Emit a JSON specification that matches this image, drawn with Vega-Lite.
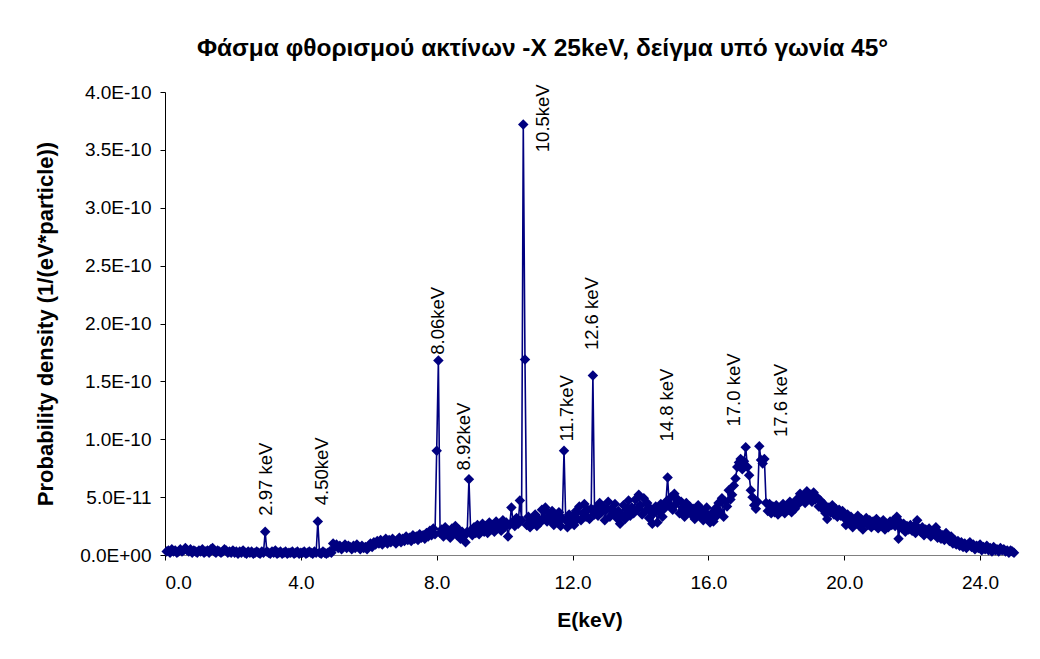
{
  "$schema": "https://vega.github.io/schema/vega-lite/v6.json",
  "autosize": {"type": "none"},
  "width": 849,
  "height": 463,
  "padding": {"left": 165, "top": 92, "right": 26, "bottom": 104},
  "background": "white",
  "config": {
    "font": "Liberation Sans",
    "view": {"stroke": null},
    "axis": {"grid": false, "labelFont": "Liberation Sans", "titleFont": "Liberation Sans", "labelColor": "#000000", "titleColor": "#000000", "labelFontSize": 19, "titleFontSize": 21, "titleFontWeight": "bold", "tickSize": 5, "domainWidth": 1, "tickWidth": 1}
  },
  "title": {
    "text": "Φάσμα φθορισμού ακτίνων -Χ 25keV, δείγμα υπό γωνία 45°",
    "font": "Liberation Sans",
    "fontSize": 24.5,
    "fontWeight": "bold",
    "color": "#000000",
    "anchor": "middle",
    "offset": 22,
    "dx": -47
  },
  "datasets": {
    "spectrum": [
      {"E":0.05,"P":0.3e-11},{"E":0.1,"P":0.4e-11},{"E":0.15,"P":0.2e-11},{"E":0.2,"P":0.5e-11},{"E":0.25,"P":0.3e-11},{"E":0.3,"P":0.4e-11},{"E":0.35,"P":0.2e-11},{"E":0.4,"P":0.3e-11},{"E":0.45,"P":0.5e-11},{"E":0.5,"P":0.3e-11},
      {"E":0.55,"P":0.4e-11},{"E":0.6,"P":0.6e-11},{"E":0.65,"P":0.4e-11},{"E":0.7,"P":0.3e-11},{"E":0.75,"P":0.5e-11},{"E":0.8,"P":0.2e-11},{"E":0.85,"P":0.4e-11},{"E":0.9,"P":0.3e-11},{"E":0.95,"P":0.2e-11},{"E":1.0,"P":0.4e-11},
      {"E":1.05,"P":0.3e-11},{"E":1.1,"P":0.5e-11},{"E":1.15,"P":0.2e-11},{"E":1.2,"P":0.3e-11},{"E":1.25,"P":0.4e-11},{"E":1.3,"P":0.2e-11},{"E":1.35,"P":0.5e-11},{"E":1.4,"P":0.6e-11},{"E":1.45,"P":0.3e-11},{"E":1.5,"P":0.2e-11},
      {"E":1.55,"P":0.4e-11},{"E":1.6,"P":0.3e-11},{"E":1.65,"P":0.2e-11},{"E":1.7,"P":0.3e-11},{"E":1.75,"P":0.5e-11},{"E":1.8,"P":0.4e-11},{"E":1.85,"P":0.2e-11},{"E":1.9,"P":0.3e-11},{"E":1.95,"P":0.2e-11},{"E":2.0,"P":0.4e-11},
      {"E":2.05,"P":0.2e-11},{"E":2.1,"P":0.3e-11},{"E":2.15,"P":0.1e-11},{"E":2.2,"P":0.3e-11},{"E":2.25,"P":0.2e-11},{"E":2.3,"P":0.4e-11},{"E":2.35,"P":0.2e-11},{"E":2.4,"P":0.1e-11},{"E":2.45,"P":0.3e-11},{"E":2.5,"P":0.2e-11},
      {"E":2.55,"P":0.3e-11},{"E":2.6,"P":0.1e-11},{"E":2.65,"P":0.2e-11},{"E":2.7,"P":0.3e-11},{"E":2.75,"P":0.2e-11},{"E":2.8,"P":0.1e-11},{"E":2.85,"P":0.3e-11},{"E":2.9,"P":0.2e-11},{"E":2.95,"P":2.0e-11},{"E":3.0,"P":0.3e-11},
      {"E":3.05,"P":0.2e-11},{"E":3.1,"P":0.1e-11},{"E":3.15,"P":0.3e-11},{"E":3.2,"P":0.2e-11},{"E":3.25,"P":0.4e-11},{"E":3.3,"P":0.1e-11},{"E":3.35,"P":0.2e-11},{"E":3.4,"P":0.3e-11},{"E":3.45,"P":0.1e-11},{"E":3.5,"P":0.2e-11},
      {"E":3.55,"P":0.3e-11},{"E":3.6,"P":0.1e-11},{"E":3.65,"P":0.2e-11},{"E":3.7,"P":0.2e-11},{"E":3.75,"P":0.3e-11},{"E":3.8,"P":0.1e-11},{"E":3.85,"P":0.2e-11},{"E":3.9,"P":0.3e-11},{"E":3.95,"P":0.1e-11},{"E":4.0,"P":0.2e-11},
      {"E":4.05,"P":0.2e-11},{"E":4.1,"P":0.3e-11},{"E":4.15,"P":0.1e-11},{"E":4.2,"P":0.2e-11},{"E":4.25,"P":0.3e-11},{"E":4.3,"P":0.2e-11},{"E":4.35,"P":0.1e-11},{"E":4.4,"P":0.3e-11},{"E":4.45,"P":0.2e-11},{"E":4.5,"P":2.9e-11},
      {"E":4.55,"P":0.2e-11},{"E":4.6,"P":0.1e-11},{"E":4.65,"P":0.3e-11},{"E":4.7,"P":0.2e-11},{"E":4.75,"P":0.1e-11},{"E":4.8,"P":0.2e-11},{"E":4.85,"P":0.3e-11},{"E":4.9,"P":0.2e-11},{"E":4.95,"P":1.0e-11},{"E":5.0,"P":0.7e-11},
      {"E":5.05,"P":0.9e-11},{"E":5.1,"P":0.6e-11},{"E":5.15,"P":0.8e-11},{"E":5.2,"P":0.5e-11},{"E":5.25,"P":0.7e-11},{"E":5.3,"P":0.9e-11},{"E":5.35,"P":0.6e-11},{"E":5.4,"P":0.8e-11},{"E":5.45,"P":0.7e-11},{"E":5.5,"P":0.5e-11},
      {"E":5.55,"P":0.8e-11},{"E":5.6,"P":0.6e-11},{"E":5.65,"P":0.9e-11},{"E":5.7,"P":0.7e-11},{"E":5.75,"P":0.5e-11},{"E":5.8,"P":0.8e-11},{"E":5.85,"P":0.6e-11},{"E":5.9,"P":0.7e-11},{"E":5.95,"P":0.5e-11},{"E":6.0,"P":0.8e-11},
      {"E":6.05,"P":1.0e-11},{"E":6.1,"P":0.7e-11},{"E":6.15,"P":1.1e-11},{"E":6.2,"P":0.9e-11},{"E":6.25,"P":1.2e-11},{"E":6.3,"P":1.0e-11},{"E":6.35,"P":1.3e-11},{"E":6.4,"P":0.9e-11},{"E":6.45,"P":1.2e-11},{"E":6.5,"P":1.4e-11},
      {"E":6.55,"P":1.0e-11},{"E":6.6,"P":1.3e-11},{"E":6.65,"P":1.1e-11},{"E":6.7,"P":1.4e-11},{"E":6.75,"P":1.2e-11},{"E":6.8,"P":1.0e-11},{"E":6.85,"P":1.3e-11},{"E":6.9,"P":1.5e-11},{"E":6.95,"P":1.1e-11},{"E":7.0,"P":1.4e-11},
      {"E":7.05,"P":1.2e-11},{"E":7.1,"P":1.6e-11},{"E":7.15,"P":1.3e-11},{"E":7.2,"P":1.5e-11},{"E":7.25,"P":1.2e-11},{"E":7.3,"P":1.7e-11},{"E":7.35,"P":1.4e-11},{"E":7.4,"P":1.6e-11},{"E":7.45,"P":1.3e-11},{"E":7.5,"P":1.8e-11},
      {"E":7.55,"P":1.5e-11},{"E":7.6,"P":1.7e-11},{"E":7.65,"P":1.4e-11},{"E":7.7,"P":1.9e-11},{"E":7.75,"P":1.6e-11},{"E":7.8,"P":2.1e-11},{"E":7.85,"P":1.7e-11},{"E":7.9,"P":2.3e-11},{"E":7.95,"P":1.8e-11},{"E":8.0,"P":9.0e-11},
      {"E":8.05,"P":16.8e-11},{"E":8.1,"P":1.9e-11},{"E":8.15,"P":2.2e-11},{"E":8.2,"P":1.6e-11},{"E":8.25,"P":2.4e-11},{"E":8.3,"P":1.8e-11},{"E":8.35,"P":2.1e-11},{"E":8.4,"P":1.5e-11},{"E":8.45,"P":2.3e-11},{"E":8.5,"P":1.9e-11},
      {"E":8.55,"P":2.5e-11},{"E":8.6,"P":1.7e-11},{"E":8.65,"P":2.2e-11},{"E":8.7,"P":1.4e-11},{"E":8.75,"P":2.0e-11},{"E":8.8,"P":1.6e-11},{"E":8.85,"P":1.1e-11},{"E":8.9,"P":2.0e-11},{"E":8.95,"P":6.55e-11},{"E":9.0,"P":2.1e-11},
      {"E":9.05,"P":1.7e-11},{"E":9.1,"P":2.4e-11},{"E":9.15,"P":1.9e-11},{"E":9.2,"P":2.6e-11},{"E":9.25,"P":1.8e-11},{"E":9.3,"P":2.3e-11},{"E":9.35,"P":2.7e-11},{"E":9.4,"P":2.0e-11},{"E":9.45,"P":2.5e-11},{"E":9.5,"P":1.9e-11},
      {"E":9.55,"P":2.8e-11},{"E":9.6,"P":2.2e-11},{"E":9.65,"P":2.6e-11},{"E":9.7,"P":2.0e-11},{"E":9.75,"P":2.9e-11},{"E":9.8,"P":2.3e-11},{"E":9.85,"P":2.7e-11},{"E":9.9,"P":2.1e-11},{"E":9.95,"P":3.0e-11},{"E":10.0,"P":2.4e-11},
      {"E":10.05,"P":2.8e-11},{"E":10.1,"P":1.6e-11},{"E":10.15,"P":2.6e-11},{"E":10.2,"P":4.1e-11},{"E":10.25,"P":2.9e-11},{"E":10.3,"P":2.5e-11},{"E":10.35,"P":3.2e-11},{"E":10.4,"P":2.7e-11},{"E":10.45,"P":4.7e-11},{"E":10.5,"P":3.0e-11},
      {"E":10.55,"P":37.2e-11},{"E":10.6,"P":16.9e-11},{"E":10.65,"P":2.6e-11},{"E":10.7,"P":3.3e-11},{"E":10.75,"P":2.4e-11},{"E":10.8,"P":3.0e-11},{"E":10.85,"P":2.7e-11},{"E":10.9,"P":3.5e-11},{"E":10.95,"P":2.5e-11},{"E":11.0,"P":3.1e-11},
      {"E":11.05,"P":2.8e-11},{"E":11.1,"P":3.9e-11},{"E":11.15,"P":3.2e-11},{"E":11.2,"P":4.1e-11},{"E":11.25,"P":2.9e-11},{"E":11.3,"P":3.6e-11},{"E":11.35,"P":3.0e-11},{"E":11.4,"P":3.8e-11},{"E":11.45,"P":2.6e-11},{"E":11.5,"P":3.4e-11},
      {"E":11.55,"P":2.8e-11},{"E":11.6,"P":3.7e-11},{"E":11.65,"P":2.5e-11},{"E":11.7,"P":3.2e-11},{"E":11.75,"P":9.0e-11},{"E":11.8,"P":3.0e-11},{"E":11.85,"P":2.4e-11},{"E":11.9,"P":3.5e-11},{"E":11.95,"P":2.7e-11},{"E":12.0,"P":3.3e-11},
      {"E":12.05,"P":2.6e-11},{"E":12.1,"P":3.8e-11},{"E":12.15,"P":3.1e-11},{"E":12.2,"P":4.2e-11},{"E":12.25,"P":3.0e-11},{"E":12.3,"P":3.6e-11},{"E":12.35,"P":4.4e-11},{"E":12.4,"P":3.3e-11},{"E":12.45,"P":3.9e-11},{"E":12.5,"P":3.1e-11},
      {"E":12.55,"P":4.0e-11},{"E":12.6,"P":15.5e-11},{"E":12.65,"P":3.5e-11},{"E":12.7,"P":4.1e-11},{"E":12.75,"P":3.4e-11},{"E":12.8,"P":4.5e-11},{"E":12.85,"P":3.7e-11},{"E":12.9,"P":4.2e-11},{"E":12.95,"P":3.0e-11},{"E":13.0,"P":3.9e-11},
      {"E":13.05,"P":4.6e-11},{"E":13.1,"P":3.3e-11},{"E":13.15,"P":4.0e-11},{"E":13.2,"P":3.6e-11},{"E":13.25,"P":4.4e-11},{"E":13.3,"P":3.2e-11},{"E":13.35,"P":3.8e-11},{"E":13.4,"P":2.7e-11},{"E":13.45,"P":3.5e-11},{"E":13.5,"P":4.3e-11},
      {"E":13.55,"P":3.1e-11},{"E":13.6,"P":3.9e-11},{"E":13.65,"P":4.7e-11},{"E":13.7,"P":3.4e-11},{"E":13.75,"P":4.1e-11},{"E":13.8,"P":3.6e-11},{"E":13.85,"P":4.8e-11},{"E":13.9,"P":3.9e-11},{"E":13.95,"P":5.2e-11},{"E":14.0,"P":4.3e-11},
      {"E":14.05,"P":3.5e-11},{"E":14.1,"P":4.9e-11},{"E":14.15,"P":3.8e-11},{"E":14.2,"P":4.5e-11},{"E":14.25,"P":3.2e-11},{"E":14.3,"P":4.0e-11},{"E":14.35,"P":2.7e-11},{"E":14.4,"P":3.6e-11},{"E":14.45,"P":4.2e-11},{"E":14.5,"P":2.8e-11},
      {"E":14.55,"P":3.7e-11},{"E":14.6,"P":4.4e-11},{"E":14.65,"P":3.3e-11},{"E":14.7,"P":4.0e-11},{"E":14.75,"P":4.6e-11},{"E":14.8,"P":6.7e-11},{"E":14.85,"P":4.3e-11},{"E":14.9,"P":5.0e-11},{"E":14.95,"P":3.9e-11},{"E":15.0,"P":5.3e-11},
      {"E":15.05,"P":4.4e-11},{"E":15.1,"P":4.8e-11},{"E":15.15,"P":3.6e-11},{"E":15.2,"P":4.6e-11},{"E":15.25,"P":4.1e-11},{"E":15.3,"P":3.3e-11},{"E":15.35,"P":4.5e-11},{"E":15.4,"P":3.8e-11},{"E":15.45,"P":4.2e-11},{"E":15.5,"P":3.5e-11},
      {"E":15.55,"P":4.0e-11},{"E":15.6,"P":3.1e-11},{"E":15.65,"P":3.8e-11},{"E":15.7,"P":4.3e-11},{"E":15.75,"P":3.4e-11},{"E":15.8,"P":3.9e-11},{"E":15.85,"P":3.0e-11},{"E":15.9,"P":3.7e-11},{"E":15.95,"P":4.1e-11},{"E":16.0,"P":3.2e-11},
      {"E":16.05,"P":2.8e-11},{"E":16.1,"P":3.6e-11},{"E":16.15,"P":2.9e-11},{"E":16.2,"P":4.0e-11},{"E":16.25,"P":3.4e-11},{"E":16.3,"P":4.5e-11},{"E":16.35,"P":3.7e-11},{"E":16.4,"P":4.9e-11},{"E":16.45,"P":3.3e-11},{"E":16.5,"P":4.6e-11},
      {"E":16.55,"P":4.2e-11},{"E":16.6,"P":5.6e-11},{"E":16.65,"P":4.8e-11},{"E":16.7,"P":5.2e-11},{"E":16.75,"P":6.0e-11},{"E":16.8,"P":6.6e-11},{"E":16.85,"P":7.6e-11},{"E":16.9,"P":8.0e-11},{"E":16.95,"P":8.3e-11},{"E":17.0,"P":7.4e-11},
      {"E":17.05,"P":8.1e-11},{"E":17.1,"P":9.3e-11},{"E":17.15,"P":7.6e-11},{"E":17.2,"P":6.9e-11},{"E":17.25,"P":5.6e-11},{"E":17.3,"P":5.0e-11},{"E":17.35,"P":4.3e-11},{"E":17.4,"P":4.0e-11},{"E":17.45,"P":4.6e-11},{"E":17.5,"P":9.4e-11},
      {"E":17.55,"P":8.2e-11},{"E":17.6,"P":7.9e-11},{"E":17.65,"P":8.3e-11},{"E":17.7,"P":4.5e-11},{"E":17.75,"P":3.8e-11},{"E":17.8,"P":4.4e-11},{"E":17.85,"P":3.6e-11},{"E":17.9,"P":4.2e-11},{"E":17.95,"P":3.7e-11},{"E":18.0,"P":4.3e-11},
      {"E":18.05,"P":3.5e-11},{"E":18.1,"P":4.0e-11},{"E":18.15,"P":3.8e-11},{"E":18.2,"P":4.4e-11},{"E":18.25,"P":3.6e-11},{"E":18.3,"P":4.1e-11},{"E":18.35,"P":3.9e-11},{"E":18.4,"P":4.6e-11},{"E":18.45,"P":3.7e-11},{"E":18.5,"P":4.3e-11},
      {"E":18.55,"P":4.0e-11},{"E":18.6,"P":4.8e-11},{"E":18.65,"P":4.4e-11},{"E":18.7,"P":5.3e-11},{"E":18.75,"P":4.7e-11},{"E":18.8,"P":5.1e-11},{"E":18.85,"P":4.5e-11},{"E":18.9,"P":5.5e-11},{"E":18.95,"P":4.9e-11},{"E":19.0,"P":5.2e-11},
      {"E":19.05,"P":4.6e-11},{"E":19.1,"P":5.4e-11},{"E":19.15,"P":4.8e-11},{"E":19.2,"P":5.0e-11},{"E":19.25,"P":4.2e-11},{"E":19.3,"P":4.7e-11},{"E":19.35,"P":4.0e-11},{"E":19.4,"P":4.4e-11},{"E":19.45,"P":3.6e-11},{"E":19.5,"P":3.1e-11},
      {"E":19.55,"P":4.1e-11},{"E":19.6,"P":3.7e-11},{"E":19.65,"P":4.3e-11},{"E":19.7,"P":3.5e-11},{"E":19.75,"P":4.0e-11},{"E":19.8,"P":3.3e-11},{"E":19.85,"P":3.9e-11},{"E":19.9,"P":3.4e-11},{"E":19.95,"P":3.8e-11},{"E":20.0,"P":3.2e-11},
      {"E":20.05,"P":2.6e-11},{"E":20.1,"P":3.5e-11},{"E":20.15,"P":2.9e-11},{"E":20.2,"P":3.3e-11},{"E":20.25,"P":2.4e-11},{"E":20.3,"P":3.0e-11},{"E":20.35,"P":2.7e-11},{"E":20.4,"P":3.4e-11},{"E":20.45,"P":2.5e-11},{"E":20.5,"P":3.1e-11},
      {"E":20.55,"P":2.2e-11},{"E":20.6,"P":2.8e-11},{"E":20.65,"P":3.2e-11},{"E":20.7,"P":2.6e-11},{"E":20.75,"P":3.0e-11},{"E":20.8,"P":2.4e-11},{"E":20.85,"P":2.9e-11},{"E":20.9,"P":2.6e-11},{"E":20.95,"P":3.1e-11},{"E":21.0,"P":2.3e-11},
      {"E":21.05,"P":2.8e-11},{"E":21.1,"P":2.5e-11},{"E":21.15,"P":3.0e-11},{"E":21.2,"P":2.2e-11},{"E":21.25,"P":2.7e-11},{"E":21.3,"P":2.4e-11},{"E":21.35,"P":2.9e-11},{"E":21.4,"P":2.6e-11},{"E":21.45,"P":3.0e-11},{"E":21.5,"P":2.5e-11},
      {"E":21.55,"P":3.3e-11},{"E":21.6,"P":1.4e-11},{"E":21.65,"P":2.8e-11},{"E":21.7,"P":2.3e-11},{"E":21.75,"P":2.7e-11},{"E":21.8,"P":2.0e-11},{"E":21.85,"P":2.5e-11},{"E":21.9,"P":2.2e-11},{"E":21.95,"P":2.6e-11},{"E":22.0,"P":2.1e-11},
      {"E":22.05,"P":2.5e-11},{"E":22.1,"P":1.9e-11},{"E":22.15,"P":3.0e-11},{"E":22.2,"P":2.3e-11},{"E":22.25,"P":2.0e-11},{"E":22.3,"P":2.4e-11},{"E":22.35,"P":1.7e-11},{"E":22.4,"P":2.2e-11},{"E":22.45,"P":1.9e-11},{"E":22.5,"P":2.3e-11},
      {"E":22.55,"P":1.6e-11},{"E":22.6,"P":2.0e-11},{"E":22.65,"P":1.8e-11},{"E":22.7,"P":2.4e-11},{"E":22.75,"P":1.5e-11},{"E":22.8,"P":1.9e-11},{"E":22.85,"P":1.4e-11},{"E":22.9,"P":1.7e-11},{"E":22.95,"P":1.3e-11},{"E":23.0,"P":1.9e-11},
      {"E":23.05,"P":1.5e-11},{"E":23.1,"P":1.2e-11},{"E":23.15,"P":1.6e-11},{"E":23.2,"P":1.0e-11},{"E":23.25,"P":1.3e-11},{"E":23.3,"P":0.9e-11},{"E":23.35,"P":1.2e-11},{"E":23.4,"P":0.8e-11},{"E":23.45,"P":1.1e-11},{"E":23.5,"P":0.7e-11},
      {"E":23.55,"P":1.0e-11},{"E":23.6,"P":0.6e-11},{"E":23.65,"P":0.9e-11},{"E":23.7,"P":1.1e-11},{"E":23.75,"P":0.7e-11},{"E":23.8,"P":0.9e-11},{"E":23.85,"P":0.5e-11},{"E":23.9,"P":0.8e-11},{"E":23.95,"P":0.6e-11},{"E":24.0,"P":0.9e-11},
      {"E":24.05,"P":0.4e-11},{"E":24.1,"P":0.7e-11},{"E":24.15,"P":0.5e-11},{"E":24.2,"P":0.8e-11},{"E":24.25,"P":0.4e-11},{"E":24.3,"P":0.6e-11},{"E":24.35,"P":0.3e-11},{"E":24.4,"P":0.7e-11},{"E":24.45,"P":0.4e-11},{"E":24.5,"P":0.5e-11},
      {"E":24.55,"P":0.3e-11},{"E":24.6,"P":0.6e-11},{"E":24.65,"P":0.4e-11},{"E":24.7,"P":0.5e-11},{"E":24.75,"P":0.3e-11},{"E":24.8,"P":0.4e-11},{"E":24.85,"P":0.2e-11},{"E":24.9,"P":0.4e-11},{"E":24.95,"P":0.3e-11},{"E":25.0,"P":0.2e-11}
    ],
    "labels": [
      {"E":2.97,"P":3.4e-11,"label":"2.97 keV"},
      {"E":4.62,"P":4.3e-11,"label":"4.50keV"},
      {"E":8.04,"P":17.3e-11,"label":"8.06keV"},
      {"E":8.80,"P":7.3e-11,"label":"8.92keV"},
      {"E":11.13,"P":34.8e-11,"label":"10.5keV"},
      {"E":11.84,"P":9.8e-11,"label":"11.7keV"},
      {"E":12.57,"P":17.7e-11,"label":"12.6 keV"},
      {"E":14.78,"P":9.8e-11,"label":"14.8 keV"},
      {"E":16.75,"P":11.1e-11,"label":"17.0 keV"},
      {"E":18.14,"P":10.2e-11,"label":"17.6 keV"}
    ]
  },
  "encoding": {
    "x": {
      "field": "E", "type": "quantitative",
      "scale": {"domain": [0, 25], "nice": false, "zero": false},
      "axis": {"title": "E(keV)", "values": [0,4,8,12,16,20,24], "format": ".1f", "labelPadding": 13, "titlePadding": 17, "domainColor": "#808080", "tickColor": "#000000"}
    },
    "y": {
      "field": "P", "type": "quantitative",
      "scale": {"domain": [0, 4e-10], "nice": false},
      "axis": {"title": "Probability density (1/(eV*particle))", "titleFontSize": 22, "values": [0,5e-11,1e-10,1.5e-10,2e-10,2.5e-10,3e-10,3.5e-10,4e-10], "labelExpr": "datum.value == 0 ? '0.0E+00' : upper(format(datum.value, '.1e'))", "labelPadding": 9, "titlePadding": 22, "domainColor": "#000000", "tickColor": "#000000"}
    }
  },
  "layer": [
    {"data": {"name": "spectrum"}, "mark": {"type": "line", "color": "#000080", "strokeWidth": 1.6}},
    {"data": {"name": "spectrum"}, "mark": {"type": "point", "shape": "diamond", "filled": true, "color": "#000080", "opacity": 1, "size": 110}},
    {"data": {"name": "labels"}, "mark": {"type": "text", "angle": 270, "align": "left", "baseline": "middle", "font": "Liberation Sans", "fontSize": 18.5, "color": "#000000"}, "encoding": {"text": {"field": "label"}}}
  ]
}
